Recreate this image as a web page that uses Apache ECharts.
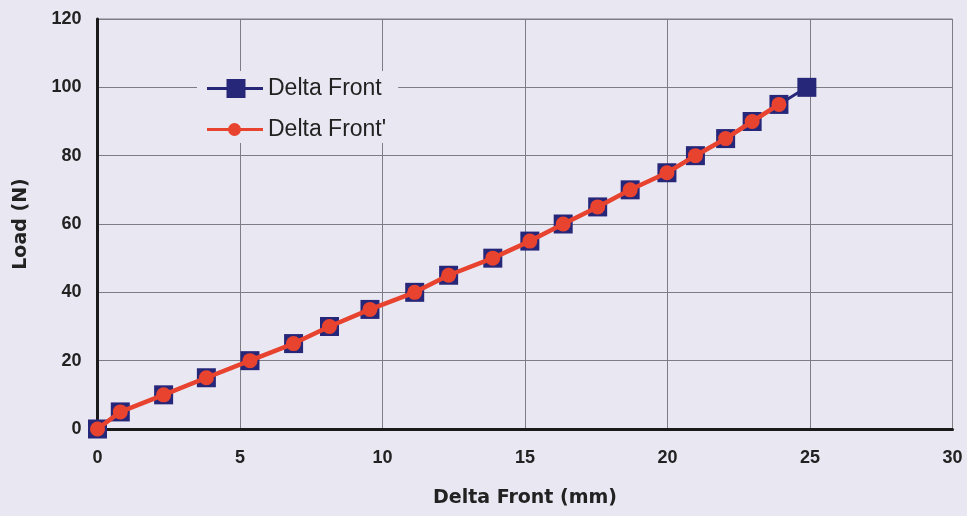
<!DOCTYPE html>
<html>
<head>
<meta charset="utf-8">
<script src="https://cdn.jsdelivr.net/npm/echarts@6/dist/echarts.min.js"></script>
<style>
  html, body { margin: 0; padding: 0; background: #E9E8F2; }
  #chart { width: 967px; height: 516px; }
</style>
</head>
<body>
<div id="chart"></div>
<script>
// Deflection (mm) and applied load (N) for the front measurement
const deltaFrontX = [0, 0.8, 2.32, 3.82, 5.35, 6.88, 8.14, 9.56, 11.13, 12.32, 13.87,
                     15.17, 16.34, 17.55, 18.69, 19.98, 20.98, 22.04, 22.97, 23.91, 24.89];
const deltaFrontLoad = [0, 5, 10, 15, 20, 25, 30, 35, 40, 45, 50,
                        55, 60, 65, 70, 75, 80, 85, 90, 95, 100];

// Repeat measurement (stops at 95 N)
const deltaFrontPrimeX = [0, 0.8, 2.32, 3.82, 5.35, 6.88, 8.14, 9.56, 11.13, 12.32, 13.87,
                          15.17, 16.34, 17.55, 18.69, 19.98, 20.98, 22.04, 22.97, 23.91];
const deltaFrontPrimeLoad = [0, 5, 10, 15, 20, 25, 30, 35, 40, 45, 50,
                             55, 60, 65, 70, 75, 80, 85, 90, 95];

const xTicks = [0, 5, 10, 15, 20, 25, 30];
const yTicks = [0, 20, 40, 60, 80, 100, 120];

const seriesNames = ['Delta Front', "Delta Front'"];

function pairs(xs, ys) {
  return xs.map((x, i) => [x, ys[i]]);
}

const bg = '#E9E8F2';
const blue = '#27277A';
const red = '#E8432E';
const tickFont = { fontFamily: 'Liberation Sans, Arial, sans-serif', fontWeight: 'bold', fontSize: 18, color: '#222' };
const titleFont = { fontFamily: 'DejaVu Sans, sans-serif', fontWeight: 'bold', fontSize: 19, color: '#222' };

// Legend keys: a 3px line with the marker on it, drawn in a 56 x 20 box
// (corner move-tos keep the box extent so the icon is not stretched)
const keyFrame = 'M0,0 L0,0 M56,20 L56,20 ';
const squareKey = 'path://' + keyFrame +
  'M0,8.5 L19.5,8.5 L19.5,0.5 L38.5,0.5 L38.5,8.5 L56,8.5 L56,11.5 L38.5,11.5 L38.5,19.5 L19.5,19.5 L19.5,11.5 L0,11.5 Z';
const circleKey = 'path://' + keyFrame +
  'M0,8.5 L56,8.5 L56,11.5 L0,11.5 Z ' +
  'M34,10 A6.5,6.5 0 1,1 21,10 A6.5,6.5 0 1,1 34,10 Z';

const chart = echarts.init(document.getElementById('chart'), null, { renderer: 'canvas' });
chart.setOption({
  backgroundColor: bg,
  animation: false,
  grid: {
    left: 97.5, right: 14.5, top: 19, bottom: 87,
    show: true, borderColor: '#7d7d85', borderWidth: 1, backgroundColor: 'transparent'
  },
  legend: {
    data: [
      { name: seriesNames[0], icon: squareKey, itemStyle: { color: blue } },
      { name: seriesNames[1], icon: circleKey, itemStyle: { color: red } }
    ],
    orient: 'vertical',
    left: 197, top: 71,
    itemWidth: 56, itemHeight: 20, itemGap: 18,
    padding: [6, 12, 2, 10],
    backgroundColor: bg,
    textStyle: { fontFamily: 'Liberation Sans, Arial, sans-serif', fontSize: 23, color: '#222' }
  },
  xAxis: {
    type: 'value', min: xTicks[0], max: xTicks[xTicks.length - 1], interval: 5,
    name: 'Delta Front (mm)', nameLocation: 'middle', nameGap: 60,
    nameTextStyle: titleFont,
    axisLine: { show: true, onZero: false, lineStyle: { color: '#1a1a1a', width: 3 } },
    axisTick: { show: false },
    axisLabel: Object.assign({ margin: 20 }, tickFont),
    splitLine: { show: true, lineStyle: { color: '#7d7d85', width: 1 } }
  },
  yAxis: {
    type: 'value', min: yTicks[0], max: yTicks[yTicks.length - 1], interval: 20,
    name: 'Load (N)', nameLocation: 'middle', nameGap: 67,
    nameTextStyle: titleFont,
    axisLine: { show: true, onZero: false, lineStyle: { color: '#1a1a1a', width: 3 } },
    axisTick: { show: false },
    axisLabel: Object.assign({ margin: 16 }, tickFont),
    splitLine: { show: true, lineStyle: { color: '#7d7d85', width: 1 } }
  },
  series: [
    {
      name: seriesNames[0], type: 'line',
      data: pairs(deltaFrontX, deltaFrontLoad),
      symbol: 'rect', symbolSize: 19,
      lineStyle: { color: blue, width: 3 },
      itemStyle: { color: blue },
      z: 2
    },
    {
      name: seriesNames[1], type: 'line',
      data: pairs(deltaFrontPrimeX, deltaFrontPrimeLoad),
      symbol: 'circle', symbolSize: 15,
      lineStyle: { color: red, width: 4.5 },
      itemStyle: { color: red },
      z: 3
    }
  ]
});
</script>
</body>
</html>
